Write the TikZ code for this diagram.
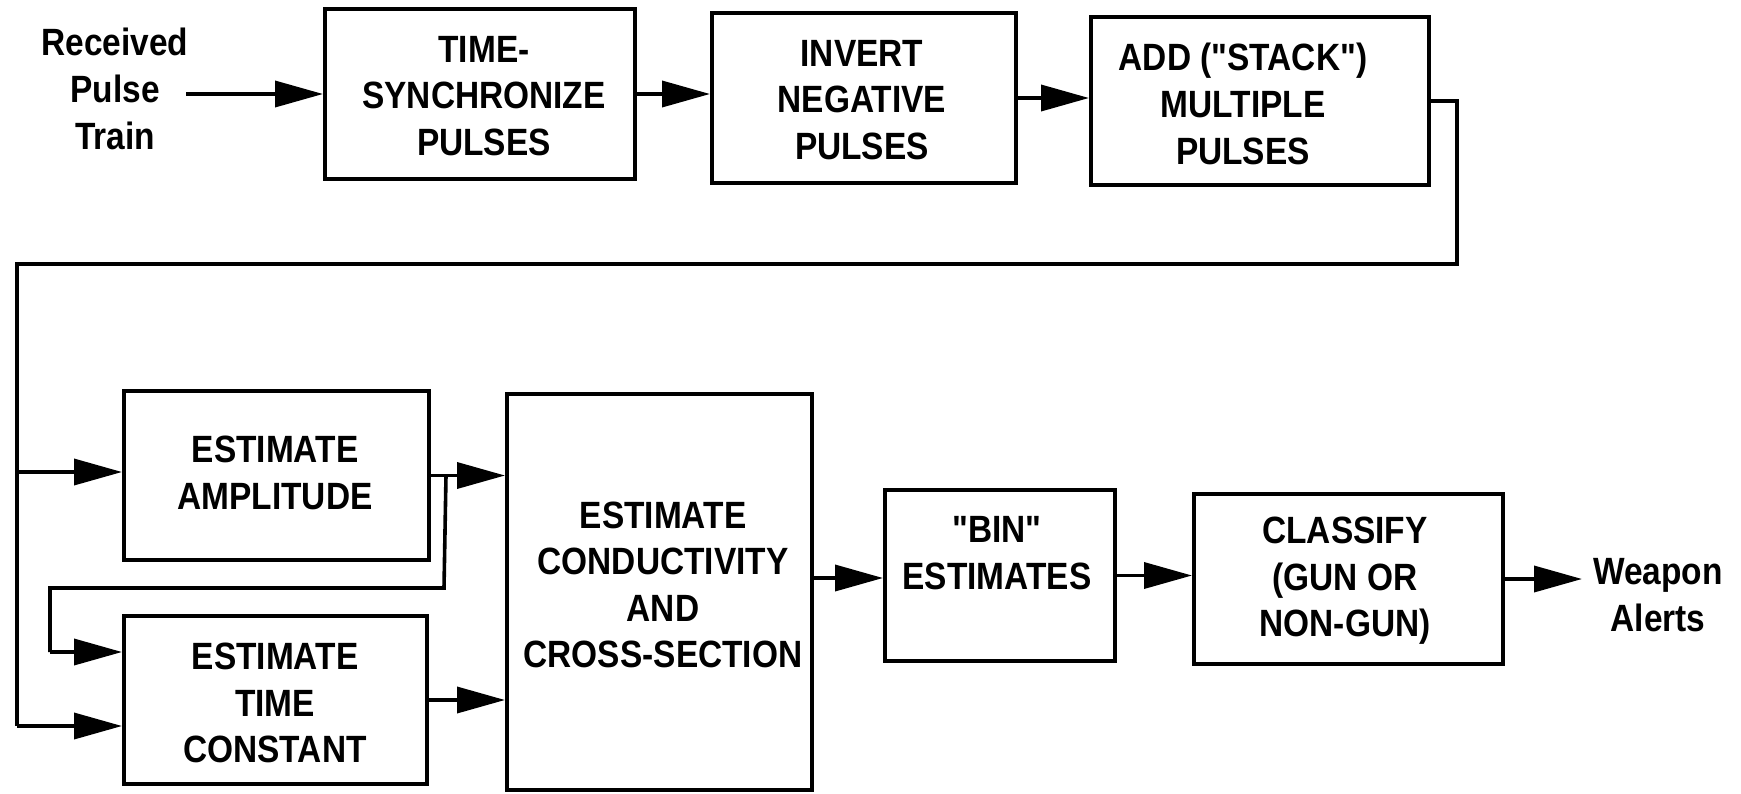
\documentclass[tikz,border=0pt]{standalone}
\usepackage{fontspec}
\newfontfamily\diagfont{Liberation Sans}[FakeStretch=0.88]
\usetikzlibrary{arrows.meta,fit,calc}
\begin{document}
\begin{tikzpicture}[x=0.5pt,y=-0.5pt,
  lbl/.style={font=\diagfont\fontsize{19}{23.3}\selectfont\bfseries, align=center, inner sep=0pt},
  box/.style={draw, line width=2pt, inner sep=0pt},
  wire/.style={line width=1.8pt},
  arr/.style={wire, -{Triangle[length=24pt,width=13pt]}}]
\useasboundingbox (0,0) rectangle (1741,793);

% processing blocks
\node[box, fit={(325,9) (635,179)}] (tsync) {};
\node[box, fit={(712,13) (1016,183)}] (invert) {};
\node[box, fit={(1091,17) (1429,185)}] (add) {};
\node[box, fit={(124,391) (429,560)}] (amp) {};
\node[box, fit={(124,616) (427,784)}] (tc) {};
\node[box, fit={(507,394) (812,790)}] (cond) {};
\node[box, fit={(885,490) (1115,661)}] (bin) {};
\node[box, fit={(1194,494) (1503,664)}] (cls) {};

% block texts
\node[lbl] (recv) at (115,89) {Received\\Pulse\\Train};
\node[lbl] (tsyncT) at (484,96) {TIME-\\SYNCHRONIZE\\PULSES};
\node[lbl] (invertT) at (862,100) {INVERT\\NEGATIVE\\PULSES};
\node[lbl] (addT) at (1243,104) {ADD ("STACK")\\MULTIPLE\\PULSES};
\node[lbl] (ampT) at (275,473) {ESTIMATE\\AMPLITUDE};
\node[lbl] (tcT) at (275,703) {ESTIMATE\\TIME\\CONSTANT};
\node[lbl] (condT) at (663,585) {ESTIMATE\\CONDUCTIVITY\\AND\\CROSS-SECTION};
\node[lbl] (binT) at (997,553) {"BIN"\\ESTIMATES};
\node[lbl] (clsT) at (1345,581) {CLASSIFY\\(GUN OR\\NON-GUN)};
\node[lbl] (alert) at (1658,595) {Weapon\\Alerts};

% top row
\coordinate (src) at (186,94);
\draw[arr] (src) -- (tsync.west);
\draw[arr] (tsync.east) -- (tsync.east -| invert.west);
\draw[arr] (invert.east) -- (invert.east -| add.west);

% return line to the estimators
\coordinate (fbR) at (1457,264);
\coordinate (fbL) at (17,264);
\coordinate (j1) at (17,472);
\coordinate (j2) at (17,726);
\draw[wire] (add.east) -| (fbR) -- (fbL) -- (j2);
\draw[arr] (j1) -- (j1 -| amp.west);
\draw[arr] (j2) -- (j2 -| tc.west);

% amplitude feeds conductivity and time constant
\draw[arr] (amp.east) -- (amp.east -| cond.west);
\coordinate (tap) at ($(amp.east)+(15,0)$);
\coordinate (lp1) at (444,588);
\coordinate (lp2) at (50,588);
\coordinate (lp3) at (50,652);
\draw[wire] (tap) -- (lp1) -- (lp2) -- (lp3);
\draw[arr] (lp3) -- (lp3 -| tc.west);
\draw[arr] (tc.east) -- (tc.east -| cond.west);

% output chain
\coordinate (cout) at ([yshift=7pt]cond.east);
\draw[arr] (cout) -- (cout -| bin.west);
\draw[arr] (bin.east) -- (bin.east -| cls.west);
\coordinate (out) at (1582,579);
\draw[arr] (cls.east) -- (out);
\end{tikzpicture}
\end{document}
